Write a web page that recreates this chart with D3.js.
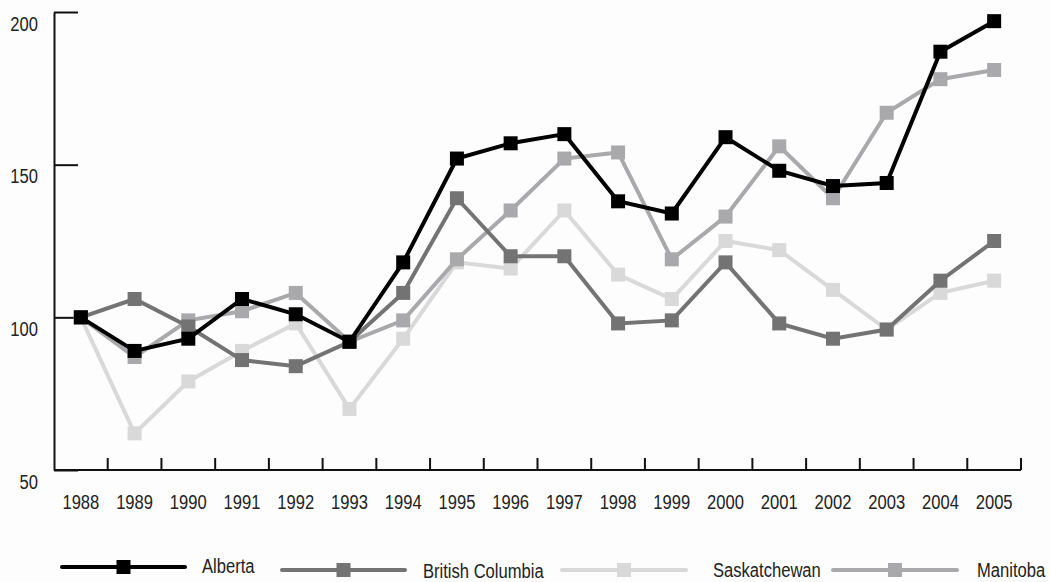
<!DOCTYPE html>
<html>
<head>
<meta charset="utf-8">
<script src="https://cdn.jsdelivr.net/npm/d3@7/dist/d3.min.js"></script>
<style>
  html, body { margin: 0; padding: 0; background: #fdfdfd; }
  svg { display: block; }
  text { font-family: "Liberation Sans", Arial, sans-serif; fill: #222; }
</style>
</head>
<body>
<svg id="chart" width="1050" height="582"></svg>
<script>
const years = ["1988","1989","1990","1991","1992","1993","1994","1995","1996","1997","1998","1999","2000","2001","2002","2003","2004","2005"];
const alberta      = [100, 89, 93, 106, 101, 92, 118, 152, 157, 160, 138, 134, 159, 148, 143, 144, 187, 197];
const britishCol   = [100, 106, 97, 86, 84, 92, 108, 139, 120, 120, 98, 99, 118, 98, 93, 96, 112, 125];
const saskatchewan = [100, 62, 79, 89, 98, 70, 93, 118, 116, 135, 114, 106, 125, 122, 109, 96, 108, 112];
const manitoba     = [100, 87, 99, 102, 108, 92, 99, 119, 135, 152, 154, 119, 133, 156, 139, 167, 178, 181];
const yTicks = [50, 100, 150, 200];
const seriesNames = ["Alberta", "British Columbia", "Saskatchewan", "Manitoba"];

const series = [
  { name: seriesNames[0], values: alberta,      color: "#000000" },
  { name: seriesNames[1], values: britishCol,   color: "#737373" },
  { name: seriesNames[2], values: saskatchewan, color: "#d9d9d9" },
  { name: seriesNames[3], values: manitoba,     color: "#a9a9ab" }
];

const FONT = '"Liberation Sans", Arial, sans-serif';
const FS = 21;
const NARROW = 0.79;

const svg = d3.select("#chart");
const mLeft = 54, mRight = 1021, mTop = 12, mBottom = 470;

const x = d3.scaleBand().domain(years).range([mLeft, mRight]).padding(0);
const y = d3.scaleLinear().domain([50, 200]).range([mBottom, mTop]);

// Y axis
const yAxis = d3.axisLeft(y).tickValues(yTicks).tickSizeInner(-24).tickSizeOuter(0).tickPadding(16);
const gy = svg.append("g").attr("transform", `translate(${mLeft},0)`).call(yAxis);
gy.select(".domain").attr("stroke", "#111").attr("stroke-width", 2);
gy.selectAll(".tick line").attr("stroke", "#111").attr("stroke-width", 2);
gy.selectAll(".tick text").attr("dy", "18").attr("font-size", FS)
  .attr("font-family", FONT).attr("fill", "#222");

// X axis labels at band centers
const xAxis = d3.axisBottom(x).tickSize(0).tickPadding(24);
const gx = svg.append("g").attr("transform", `translate(0,${mBottom})`).call(xAxis);
gx.select(".domain").remove();
gx.selectAll(".tick text").attr("font-size", FS)
  .attr("font-family", FONT).attr("fill", "#222");

// X axis line + boundary ticks
svg.append("line").attr("x1", mLeft).attr("x2", mRight).attr("y1", mBottom).attr("y2", mBottom)
  .attr("stroke", "#111").attr("stroke-width", 2);
const boundaries = years.slice(1).map(d => x(d)).concat([mRight]);
svg.append("g").selectAll("line").data(boundaries).join("line")
  .attr("x1", d => d).attr("x2", d => d)
  .attr("y1", mBottom).attr("y2", mBottom - 12)
  .attr("stroke", "#111").attr("stroke-width", 2);

const cx = d => x(d) + x.bandwidth() / 2;
const line = d3.line().x((d, i) => cx(years[i])).y(d => y(d));

// Draw order: Saskatchewan, Manitoba, BC, Alberta
const drawOrder = [2, 3, 1, 0];
const ms = 14;
drawOrder.forEach(k => {
  const s = series[k];
  const g = svg.append("g");
  g.append("path").datum(s.values).attr("d", line)
    .attr("fill", "none").attr("stroke", s.color).attr("stroke-width", 4)
    .attr("stroke-linejoin", "miter");
  g.selectAll("rect").data(s.values).join("rect")
    .attr("x", (d, i) => cx(years[i]) - ms / 2)
    .attr("y", d => y(d) - ms / 2)
    .attr("width", ms).attr("height", ms)
    .attr("fill", s.color);
});

// Legend
const legendItems = [
  { x1: 62,  x2: 185, ly: 567, tx: 202, ty: 573 },
  { x1: 282, x2: 405, ly: 570, tx: 423, ty: 578 },
  { x1: 562, x2: 686, ly: 570, tx: 713, ty: 577 },
  { x1: 833, x2: 957, ly: 570, tx: 977, ty: 577 }
];
const lg = svg.append("g");
series.forEach((s, i) => {
  const L = legendItems[i];
  lg.append("line").attr("x1", L.x1).attr("x2", L.x2).attr("y1", L.ly).attr("y2", L.ly)
    .attr("stroke", s.color).attr("stroke-width", 4).attr("stroke-linecap", "round");
  const mx = (L.x1 + L.x2) / 2;
  lg.append("rect").attr("x", mx - ms / 2).attr("y", L.ly - ms / 2)
    .attr("width", ms).attr("height", ms).attr("fill", s.color);
  lg.append("text").attr("x", L.tx).attr("y", L.ty).attr("font-size", FS)
    .attr("font-family", FONT).text(s.name);
});

// Condense all text horizontally (about its anchor x) to mimic a narrow typeface
svg.selectAll("text").each(function () {
  const ax = +this.getAttribute("x") || 0;
  d3.select(this).attr("transform", `translate(${ax * (1 - NARROW)},0) scale(${NARROW},1)`);
});
</script>
</body>
</html>
